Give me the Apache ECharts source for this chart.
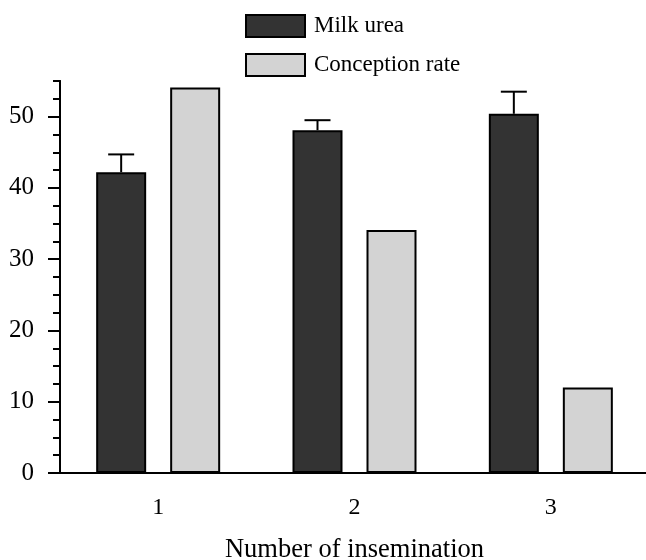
<!DOCTYPE html>
<html><head><meta charset="utf-8">
<script src="https://cdn.jsdelivr.net/npm/echarts@6/dist/echarts.min.js"></script>
<style>html,body{margin:0;padding:0;background:#fff}#c{width:646px;height:560px}</style>
</head><body><div id="c"></div>
<script>
const categories = ['1', '2', '3'];
const milkUrea = [42.2, 48.1, 50.4];
const milkUreaErrTop = [44.7, 49.5, 53.5];
const conceptionRate = [54.1, 34.1, 12.0];
const yMajorTicks = [0, 10, 20, 30, 40, 50];

const FONT = 'Liberation Serif';
const BAR_W = 50, BAR_GAP = 0.48;
const OFFSET = -(BAR_W * (1 + BAR_GAP)) / 2;

const chart = echarts.init(document.getElementById('c'), null, {renderer: 'canvas'});
const axisStyle = {color: '#000', width: 2};
chart.setOption({
  animation: false,
  backgroundColor: '#fff',
  grid: {left: 60, right: -3, top: 81, bottom: 87, containLabel: false, outerBoundsMode: 'none'},
  legend: {
    orient: 'vertical', left: 245, top: 14, padding: 0, itemWidth: 59, itemHeight: 22, itemGap: 15,
    icon: 'rect',
    data: ['Milk urea', 'Conception rate'],
    textStyle: {fontFamily: FONT, fontSize: 23, color: '#000', padding: [0, 0, 0, 4]}
  },
  xAxis: {
    type: 'category', data: categories,
    axisLine: {lineStyle: axisStyle},
    axisTick: {alignWithLabel: true, length: 8, lineStyle: axisStyle},
    axisLabel: {fontFamily: FONT, fontSize: 24, color: '#000', margin: 23},
    name: 'Number of insemination', nameLocation: 'middle', nameGap: 64,
    nameTextStyle: {fontFamily: FONT, fontSize: 26.5, color: '#000'}
  },
  yAxis: [
    {
      type: 'value', min: 0, max: 55, interval: 2.5, position: 'left',
      axisLine: {show: true, lineStyle: axisStyle},
      axisTick: {show: true, length: 7, lineStyle: axisStyle},
      axisLabel: {show: false},
      splitLine: {show: false}
    },
    {
      type: 'value', min: 0, max: 55, interval: 10, position: 'left',
      axisLine: {show: true, lineStyle: axisStyle},
      axisTick: {show: true, length: 12, lineStyle: axisStyle, customValues: yMajorTicks},
      axisLabel: {fontFamily: FONT, fontSize: 25, color: '#000', margin: 26, customValues: yMajorTicks},
      splitLine: {show: false}
    }
  ],
  series: [
    {
      name: 'Milk urea', type: 'bar', data: milkUrea, barWidth: BAR_W, barGap: (BAR_GAP * 100) + '%',
      itemStyle: {color: '#333333', borderColor: '#000', borderWidth: 2}
    },
    {
      name: 'Conception rate', type: 'bar', data: conceptionRate, barWidth: BAR_W,
      itemStyle: {color: '#d3d3d3', borderColor: '#000', borderWidth: 2}
    },
    {
      name: 'err', type: 'custom', z: 5,
      data: milkUrea.map((v, i) => [i, v, milkUreaErrTop[i]]),
      renderItem: function (params, api) {
        const base = api.coord([api.value(0), api.value(1)]);
        const top = api.coord([api.value(0), api.value(2)]);
        const x = base[0] + OFFSET;
        const half = 13;
        const st = {stroke: '#000', lineWidth: 2};
        return {
          type: 'group',
          children: [
            {type: 'line', shape: {x1: x, y1: base[1], x2: x, y2: top[1]}, style: st},
            {type: 'line', shape: {x1: x - half, y1: top[1], x2: x + half, y2: top[1]}, style: st}
          ]
        };
      }
    }
  ]
});
</script>
</body></html>
